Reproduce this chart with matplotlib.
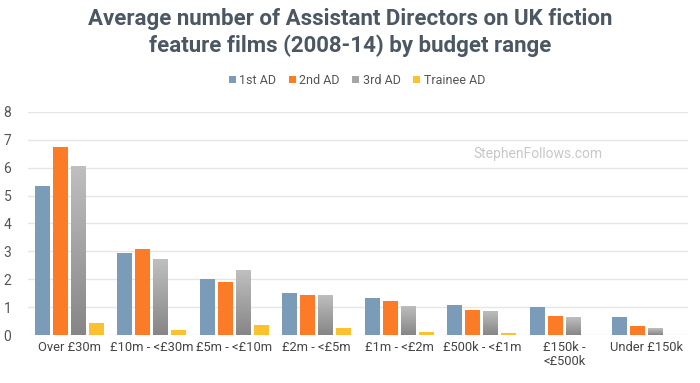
import numpy as np
import matplotlib.pyplot as plt
from matplotlib.colors import LinearSegmentedColormap

categories = ['Over £30m', '£10m - <£30m', '£5m - <£10m', '£2m - <£5m',
              '£1m - <£2m', '£500k - <£1m', '£150k -\n<£500k', 'Under £150k']
first_ad = [5.35, 2.94, 2.0, 1.52, 1.33, 1.07, 0.99, 0.64]
second_ad = [6.75, 3.09, 1.92, 1.42, 1.21, 0.90, 0.68, 0.33]
third_ad = [6.05, 2.71, 2.32, 1.44, 1.04, 0.86, 0.64, 0.24]
trainee_ad = [0.43, 0.18, 0.36, 0.27, 0.12, 0.08, 0.0, 0.0]

series = [('1st AD', first_ad, '#7a9cb8'),
          ('2nd AD', second_ad, '#fc7b27'),
          ('3rd AD', third_ad, '#a6a6a6'),
          ('Trainee AD', trainee_ad, '#fcc12e')]

plt.rcParams['font.family'] = ['Roboto', 'DejaVu Sans']

fig = plt.figure(figsize=(7, 3.83), dpi=100)
ax = fig.add_axes([0.04, 0.125, 0.943, 0.583])

x = np.arange(len(categories))
width = 0.18
step = 0.218
grey_cmap = LinearSegmentedColormap.from_list('g', ['#bfbfbf', '#868686'])

handles = []
for i, (name, vals, col) in enumerate(series):
    off = (i - 1.5) * step
    bars = ax.bar(x + off, vals, width, color=col, zorder=3, label=name)
    handles.append(bars)
    if name == '3rd AD':
        # grey bars fade from light at top to darker at the bottom
        for b in bars:
            h = b.get_height()
            if h <= 0:
                continue
            grad = np.linspace(0, 1, 100).reshape(-1, 1)
            im = ax.imshow(grad, cmap=grey_cmap, aspect='auto', zorder=4,
                           extent=[b.get_x(), b.get_x() + b.get_width(), 0, h])
            im.set_clip_path(b)

ax.set_xlim(-0.5, 7.5)
ax.set_ylim(0, 8)
ax.set_yticks(range(0, 9))
ax.set_xticks(x)
ax.set_xticklabels(categories, fontsize=9.3, color='#444444', linespacing=1.1)
ax.tick_params(axis='y', labelsize=10, colors='#555555', length=0, pad=12)
ax.tick_params(axis='x', length=0, pad=4)
ax.grid(axis='y', color='#e6e6e6', linewidth=1, zorder=0)
for s in ax.spines.values():
    s.set_visible(False)

fig.text(0.5, 0.915, 'Average number of Assistant Directors on UK fiction\nfeature films (2008-14) by budget range',
         ha='center', va='center', fontsize=16, fontweight='bold', color='#4b5763', linespacing=1.3)

ax.text(0.773, 0.81, 'StephenFollows.com', transform=ax.transAxes, ha='center', va='center',
        fontsize=10, color='#c8c8c8')

fig.legend(handles=handles, loc='center', bbox_to_anchor=(0.51, 0.79), ncol=4, frameon=False,
           fontsize=9, handlelength=0.55, handleheight=0.55, handletextpad=0.3, columnspacing=1.0,
           labelcolor='#555555')

fig.savefig('out.png', dpi=100)
